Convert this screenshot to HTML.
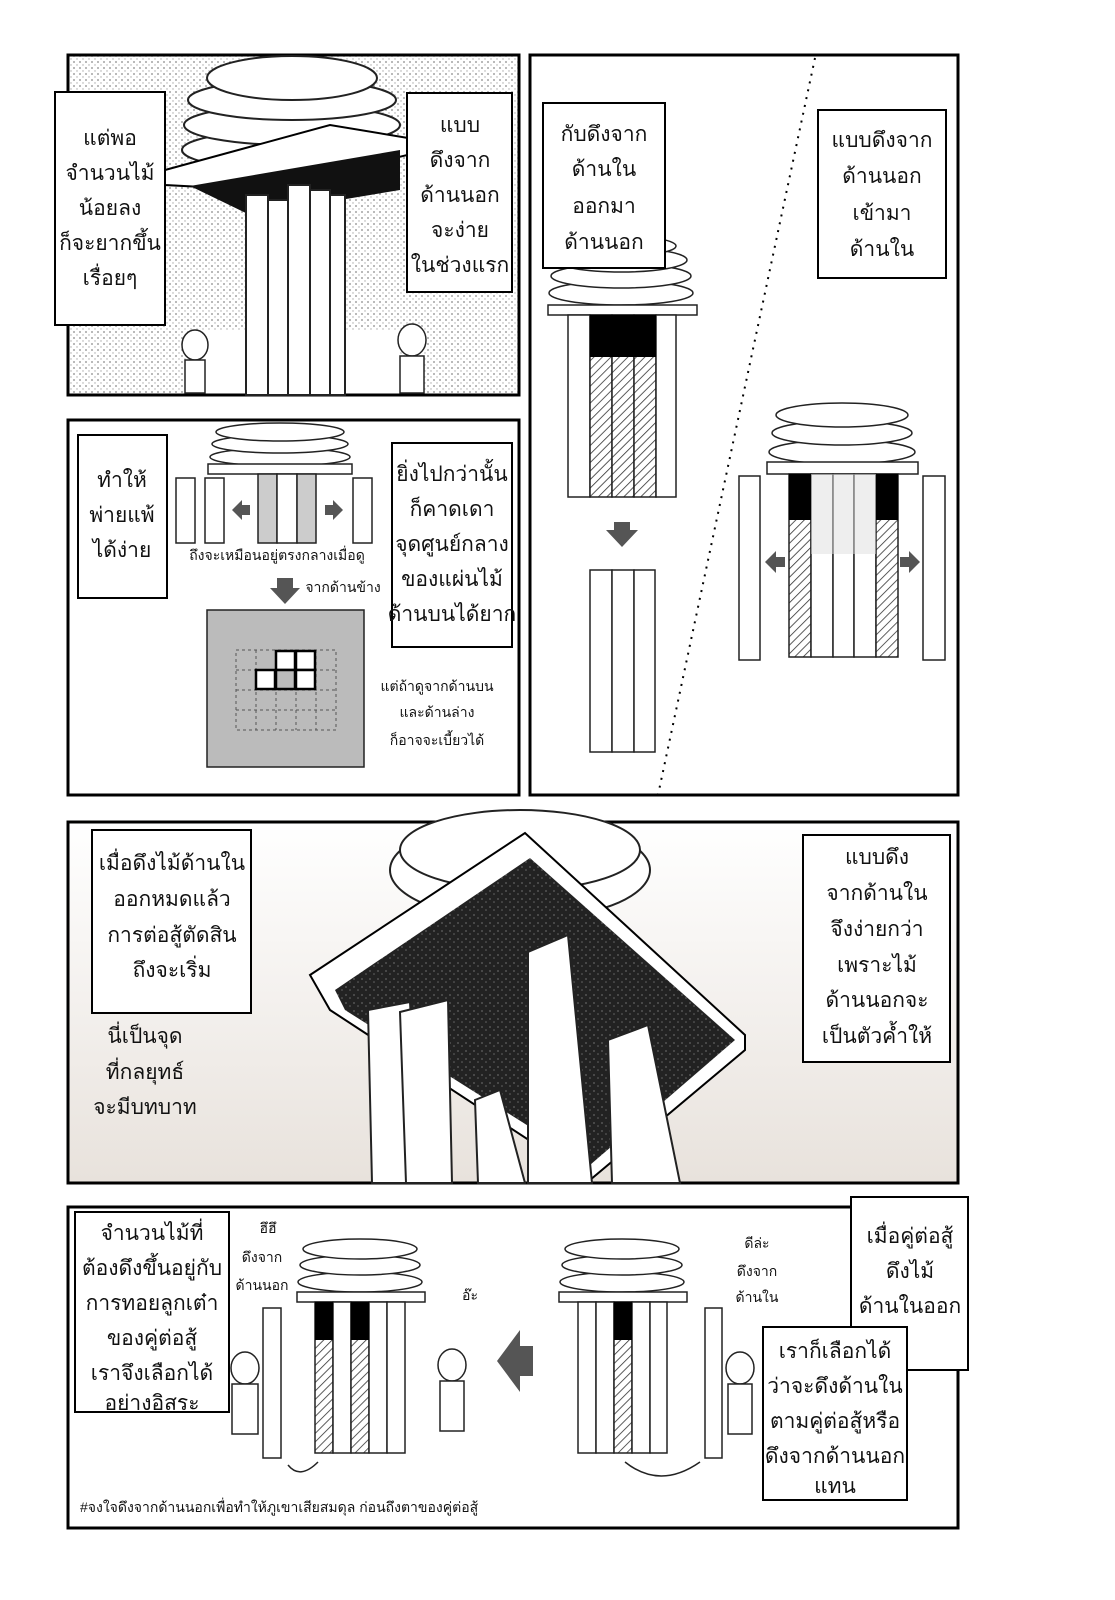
<!DOCTYPE html>
<html><head><meta charset="utf-8"><style>
html,body{margin:0;padding:0;background:#fff;}
svg{display:block;}
text{font-family:"Liberation Sans","DejaVu Sans",sans-serif;fill:#111;}
.t{font-size:21px;text-anchor:middle;}
.s{font-size:14px;text-anchor:middle;}
</style></head><body>
<svg width="1115" height="1600" viewBox="0 0 1115 1600" xmlns="http://www.w3.org/2000/svg">
<defs>
<pattern id="dots" width="6" height="6" patternUnits="userSpaceOnUse"><rect width="6" height="6" fill="#fff"/><circle cx="2" cy="2" r="0.9" fill="#888"/><circle cx="5" cy="5" r="0.7" fill="#aaa"/></pattern>
<pattern id="hatch" width="6" height="6" patternUnits="userSpaceOnUse" patternTransform="rotate(45)"><rect width="6" height="6" fill="#fff"/><line x1="0" y1="0" x2="0" y2="6" stroke="#333" stroke-width="1.6"/></pattern>
<pattern id="noise" width="8" height="8" patternUnits="userSpaceOnUse"><rect width="8" height="8" fill="#222"/><circle cx="2" cy="3" r="1" fill="#555"/><circle cx="6" cy="6" r="0.8" fill="#666"/></pattern>
<linearGradient id="bg4" x1="0" y1="0" x2="0" y2="1"><stop offset="0" stop-color="#fff"/><stop offset="1" stop-color="#e8e2dc"/></linearGradient>
</defs>

<!-- Panel 1 -->
<rect x="68" y="55" width="451" height="340" fill="url(#dots)" stroke="#000" stroke-width="3"/>
<rect x="200" y="330" width="200" height="63" fill="#fff"/>
<g fill="#fff" stroke="#222" stroke-width="2">
<ellipse cx="292" cy="150" rx="110" ry="20"/><ellipse cx="292" cy="125" rx="108" ry="20"/><ellipse cx="292" cy="100" rx="104" ry="20"/><ellipse cx="292" cy="78" rx="85" ry="22"/>
</g>
<polygon points="165,170 330,125 420,140 420,152 260,190 165,185" fill="#fff" stroke="#000" stroke-width="2"/>
<polygon points="190,186 400,150 400,190 250,215" fill="#111"/>
<g fill="#fff" stroke="#222" stroke-width="2">
<rect x="246" y="195" width="22" height="200"/><rect x="268" y="200" width="20" height="195"/><rect x="288" y="185" width="22" height="210"/><rect x="310" y="190" width="20" height="205"/><rect x="330" y="195" width="15" height="200"/>
</g>
<rect x="55" y="92" width="110" height="233" fill="#fff" stroke="#000" stroke-width="2"/>
<text class="t" x="110" y="145">แต่พอ</text><text class="t" x="110" y="180">จำนวนไม้</text><text class="t" x="110" y="215">น้อยลง</text><text class="t" x="110" y="250">ก็จะยากขึ้น</text><text class="t" x="110" y="285">เรื่อยๆ</text>
<rect x="407" y="93" width="105" height="199" fill="#fff" stroke="#000" stroke-width="2"/>
<text class="t" x="460" y="132">แบบ</text><text class="t" x="460" y="167">ดึงจาก</text><text class="t" x="460" y="202">ด้านนอก</text><text class="t" x="460" y="237">จะง่าย</text><text class="t" x="460" y="272">ในช่วงแรก</text>
<g fill="#fff" stroke="#222" stroke-width="1.5"><ellipse cx="195" cy="345" rx="13" ry="15"/><rect x="185" y="360" width="20" height="33"/><ellipse cx="412" cy="340" rx="14" ry="16"/><rect x="400" y="356" width="24" height="37"/></g>

<!-- Panel 2 -->
<rect x="68" y="420" width="451" height="375" fill="#fff" stroke="#000" stroke-width="3"/>
<g fill="#fff" stroke="#222" stroke-width="1.5"><ellipse cx="280" cy="457" rx="70" ry="9"/><ellipse cx="280" cy="444" rx="68" ry="9"/><ellipse cx="280" cy="432" rx="64" ry="9"/></g>
<rect x="208" y="464" width="144" height="10" fill="#fff" stroke="#222" stroke-width="1.5"/>
<g stroke="#222" stroke-width="1.5"><rect x="176" y="478" width="19" height="65" fill="#fff"/><rect x="205" y="478" width="19" height="65" fill="#fff"/>
<rect x="258" y="474" width="19" height="69" fill="#ccc"/><rect x="277" y="474" width="20" height="69" fill="#fff"/><rect x="297" y="474" width="19" height="69" fill="#ccc"/><rect x="353" y="478" width="19" height="65" fill="#fff"/></g>
<polygon points="232,510 242,500 242,505 250,505 250,515 242,515 242,520" fill="#555"/>
<polygon points="343,510 333,500 333,505 325,505 325,515 333,515 333,520" fill="#555"/>
<rect x="78" y="435" width="89" height="163" fill="#fff" stroke="#000" stroke-width="2"/>
<text class="t" x="122" y="487">ทำให้</text><text class="t" x="122" y="522">พ่ายแพ้</text><text class="t" x="122" y="557">ได้ง่าย</text>
<rect x="392" y="443" width="120" height="204" fill="#fff" stroke="#000" stroke-width="2"/>
<text class="t" x="452" y="481">ยิ่งไปกว่านั้น</text><text class="t" x="452" y="516">ก็คาดเดา</text><text class="t" x="452" y="551">จุดศูนย์กลาง</text><text class="t" x="452" y="586">ของแผ่นไม้</text><text class="t" x="452" y="621">ด้านบนได้ยาก</text>
<text class="s" x="277" y="560">ถึงจะเหมือนอยู่ตรงกลางเมื่อดู</text>
<text class="s" x="343" y="592">จากด้านข้าง</text>
<polygon points="277,578 293,578 293,588 300,588 285,604 270,588 277,588" fill="#555"/>
<rect x="207" y="610" width="157" height="157" fill="#bbb" stroke="#222" stroke-width="1.5"/>
<g stroke="#555" stroke-dasharray="3,3" fill="none"><rect x="236" y="650" width="100" height="80"/><line x1="256" y1="650" x2="256" y2="730"/><line x1="276" y1="650" x2="276" y2="730"/><line x1="296" y1="650" x2="296" y2="730"/><line x1="316" y1="650" x2="316" y2="730"/><line x1="236" y1="670" x2="336" y2="670"/><line x1="236" y1="690" x2="336" y2="690"/><line x1="236" y1="710" x2="336" y2="710"/></g>
<g fill="#fff" stroke="#000" stroke-width="2.5"><rect x="276" y="651" width="19" height="19"/><rect x="296" y="651" width="19" height="19"/><rect x="256" y="670" width="19" height="19"/><rect x="296" y="670" width="19" height="19"/><rect x="276" y="670" width="19" height="19" fill="#bbb"/></g>
<text class="s" x="437" y="691">แต่ถ้าดูจากด้านบน</text><text class="s" x="437" y="717">และด้านล่าง</text><text class="s" x="437" y="745">ก็อาจจะเบี้ยวได้</text>

<!-- Panel 3 -->
<rect x="530" y="55" width="428" height="740" fill="#fff" stroke="#000" stroke-width="3"/>
<line x1="815" y1="58" x2="658" y2="795" stroke="#000" stroke-width="2" stroke-dasharray="2,6"/>
<g fill="#fff" stroke="#222" stroke-width="1.5"><ellipse cx="621" cy="293" rx="72" ry="12"/><ellipse cx="621" cy="276" rx="70" ry="12"/><ellipse cx="621" cy="260" rx="66" ry="12"/><ellipse cx="621" cy="246" rx="55" ry="10"/></g>
<rect x="548" y="305" width="149" height="10" fill="#fff" stroke="#222" stroke-width="1.5"/>
<g stroke="#222" stroke-width="1.5"><rect x="568" y="315" width="22" height="182" fill="#fff"/><rect x="590" y="315" width="22" height="182" fill="url(#hatch)"/><rect x="612" y="315" width="22" height="182" fill="url(#hatch)"/><rect x="634" y="315" width="22" height="182" fill="url(#hatch)"/><rect x="656" y="315" width="20" height="182" fill="#fff"/></g>
<rect x="590" y="315" width="66" height="42" fill="#000"/>
<polygon points="614,522 630,522 630,530 638,530 622,547 606,530 614,530" fill="#555"/>
<g stroke="#222" stroke-width="1.5" fill="#fff"><rect x="590" y="570" width="22" height="182"/><rect x="612" y="570" width="22" height="182"/><rect x="634" y="570" width="21" height="182"/></g>
<rect x="543" y="103" width="122" height="165" fill="#fff" stroke="#000" stroke-width="2"/>
<text class="t" x="604" y="141">กับดึงจาก</text><text class="t" x="604" y="176">ด้านใน</text><text class="t" x="604" y="213">ออกมา</text><text class="t" x="604" y="249">ด้านนอก</text>
<rect x="818" y="110" width="128" height="168" fill="#fff" stroke="#000" stroke-width="2"/>
<text class="t" x="882" y="147">แบบดึงจาก</text><text class="t" x="882" y="183">ด้านนอก</text><text class="t" x="882" y="220">เข้ามา</text><text class="t" x="882" y="256">ด้านใน</text>
<g fill="#fff" stroke="#222" stroke-width="1.5"><ellipse cx="842" cy="452" rx="73" ry="12"/><ellipse cx="842" cy="433" rx="70" ry="12"/><ellipse cx="842" cy="415" rx="66" ry="12"/></g>
<rect x="767" y="462" width="151" height="12" fill="#fff" stroke="#222" stroke-width="1.5"/>
<g stroke="#222" stroke-width="1.5"><rect x="789" y="474" width="22" height="183" fill="url(#hatch)"/><rect x="811" y="474" width="22" height="183" fill="#fff"/><rect x="833" y="474" width="21" height="183" fill="#fff"/><rect x="854" y="474" width="22" height="183" fill="#fff"/><rect x="876" y="474" width="22" height="183" fill="url(#hatch)"/></g>
<rect x="789" y="474" width="22" height="46" fill="#000"/><rect x="876" y="474" width="22" height="46" fill="#000"/>
<rect x="811" y="474" width="65" height="80" fill="#ddd" opacity="0.5"/>
<g stroke="#222" stroke-width="1.5" fill="#fff"><rect x="739" y="476" width="21" height="184"/><rect x="923" y="476" width="22" height="184"/></g>
<polygon points="765,562 776,551 776,557 785,557 785,567 776,567 776,573" fill="#555"/>
<polygon points="920,562 909,551 909,557 900,557 900,567 909,567 909,573" fill="#555"/>

<!-- Panel 4 -->
<rect x="68" y="822" width="890" height="361" fill="url(#bg4)" stroke="#000" stroke-width="3"/>
<g fill="#fff" stroke="#222" stroke-width="2"><ellipse cx="520" cy="870" rx="130" ry="50"/><ellipse cx="520" cy="850" rx="120" ry="40"/></g>
<polygon points="310,975 525,833 745,1035 745,1050 590,1180 330,1010" fill="#fff" stroke="#000" stroke-width="2"/>
<polygon points="335,990 530,858 735,1040 590,1165 345,1010" fill="url(#noise)"/>
<g fill="#fff" stroke="#222" stroke-width="2">
<polygon points="368,1010 410,1002 420,1183 372,1183"/><polygon points="400,1012 448,1000 452,1183 406,1183"/>
<polygon points="475,1100 500,1090 525,1183 478,1183"/>
<polygon points="528,952 568,935 592,1183 528,1183"/>
<polygon points="608,1040 648,1025 680,1183 612,1183"/>
</g>
<rect x="92" y="830" width="159" height="183" fill="#fff" stroke="#000" stroke-width="2"/>
<text class="t" x="172" y="870">เมื่อดึงไม้ด้านใน</text><text class="t" x="172" y="906">ออกหมดแล้ว</text><text class="t" x="172" y="942">การต่อสู้ตัดสิน</text><text class="t" x="172" y="977">ถึงจะเริ่ม</text>
<text class="t" x="145" y="1043">นี่เป็นจุด</text><text class="t" x="145" y="1079">ที่กลยุทธ์</text><text class="t" x="145" y="1114">จะมีบทบาท</text>
<rect x="803" y="835" width="147" height="227" fill="#fff" stroke="#000" stroke-width="2"/>
<text class="t" x="877" y="864">แบบดึง</text><text class="t" x="877" y="900">จากด้านใน</text><text class="t" x="877" y="936">จึงง่ายกว่า</text><text class="t" x="877" y="972">เพราะไม้</text><text class="t" x="877" y="1007">ด้านนอกจะ</text><text class="t" x="877" y="1043">เป็นตัวค้ำให้</text>

<!-- Panel 5 -->
<rect x="68" y="1207" width="890" height="321" fill="#fff" stroke="#000" stroke-width="3"/>
<g fill="#fff" stroke="#222" stroke-width="1.5"><ellipse cx="360" cy="1282" rx="62" ry="10"/><ellipse cx="360" cy="1265" rx="60" ry="10"/><ellipse cx="360" cy="1249" rx="57" ry="10"/>
<ellipse cx="622" cy="1282" rx="62" ry="10"/><ellipse cx="622" cy="1265" rx="60" ry="10"/><ellipse cx="622" cy="1249" rx="57" ry="10"/></g>
<rect x="297" y="1292" width="128" height="10" fill="#fff" stroke="#222" stroke-width="1.5"/>
<rect x="559" y="1292" width="128" height="10" fill="#fff" stroke="#222" stroke-width="1.5"/>
<g stroke="#222" stroke-width="1.5"><rect x="315" y="1302" width="18" height="151" fill="url(#hatch)"/><rect x="333" y="1302" width="18" height="151" fill="#fff"/><rect x="351" y="1302" width="18" height="151" fill="url(#hatch)"/><rect x="369" y="1302" width="18" height="151" fill="#fff"/><rect x="387" y="1302" width="18" height="151" fill="#fff"/>
<rect x="578" y="1302" width="18" height="151" fill="#fff"/><rect x="596" y="1302" width="18" height="151" fill="#fff"/><rect x="614" y="1302" width="18" height="151" fill="url(#hatch)"/><rect x="632" y="1302" width="18" height="151" fill="#fff"/><rect x="650" y="1302" width="17" height="151" fill="#fff"/>
<rect x="263" y="1308" width="18" height="150" fill="#fff"/><rect x="705" y="1308" width="17" height="150" fill="#fff"/></g>
<rect x="315" y="1302" width="18" height="38" fill="#000"/><rect x="351" y="1302" width="18" height="38" fill="#000"/><rect x="614" y="1302" width="18" height="38" fill="#000"/>
<polygon points="497,1361 520,1330 520,1346 533,1346 533,1376 520,1376 520,1392" fill="#555"/>
<g fill="#fff" stroke="#222" stroke-width="1.5"><ellipse cx="245" cy="1368" rx="14" ry="16"/><rect x="232" y="1384" width="26" height="50"/><ellipse cx="452" cy="1365" rx="14" ry="16"/><rect x="440" y="1381" width="24" height="50"/><ellipse cx="740" cy="1368" rx="14" ry="16"/><rect x="728" y="1384" width="24" height="50"/></g>
<path d="M288,1465 Q300,1480 318,1462" fill="none" stroke="#222" stroke-width="1.5"/>
<path d="M625,1462 Q660,1490 700,1462" fill="none" stroke="#222" stroke-width="1.5"/>
<text class="s" x="268" y="1233">ฮึฮึ</text><text class="s" x="262" y="1262">ดึงจาก</text><text class="s" x="262" y="1290">ด้านนอก</text>
<text class="s" x="470" y="1300">อ๊ะ</text>
<text class="s" x="757" y="1248">ดีล่ะ</text><text class="s" x="757" y="1276">ดึงจาก</text><text class="s" x="757" y="1302">ด้านใน</text>
<rect x="75" y="1212" width="154" height="200" fill="#fff" stroke="#000" stroke-width="2"/>
<text class="t" x="152" y="1240">จำนวนไม้ที่</text><text class="t" x="152" y="1275">ต้องดึงขึ้นอยู่กับ</text><text class="t" x="152" y="1310">การทอยลูกเต๋า</text><text class="t" x="152" y="1345">ของคู่ต่อสู้</text><text class="t" x="152" y="1380">เราจึงเลือกได้</text><text class="t" x="152" y="1410">อย่างอิสระ</text>
<rect x="851" y="1197" width="117" height="173" fill="#fff" stroke="#000" stroke-width="2"/>
<text class="t" x="910" y="1243">เมื่อคู่ต่อสู้</text><text class="t" x="910" y="1278">ดึงไม้</text><text class="t" x="910" y="1313">ด้านในออก</text>
<rect x="763" y="1327" width="144" height="173" fill="#fff" stroke="#000" stroke-width="2"/>
<text class="t" x="835" y="1358">เราก็เลือกได้</text><text class="t" x="835" y="1393">ว่าจะดึงด้านใน</text><text class="t" x="835" y="1428">ตามคู่ต่อสู้หรือ</text><text class="t" x="835" y="1463">ดึงจากด้านนอก</text><text class="t" x="835" y="1493">แทน</text>
<text x="80" y="1512" style="font-size:14px;">#จงใจดึงจากด้านนอกเพื่อทำให้ภูเขาเสียสมดุล ก่อนถึงตาของคู่ต่อสู้</text>
</svg>
</body></html>
